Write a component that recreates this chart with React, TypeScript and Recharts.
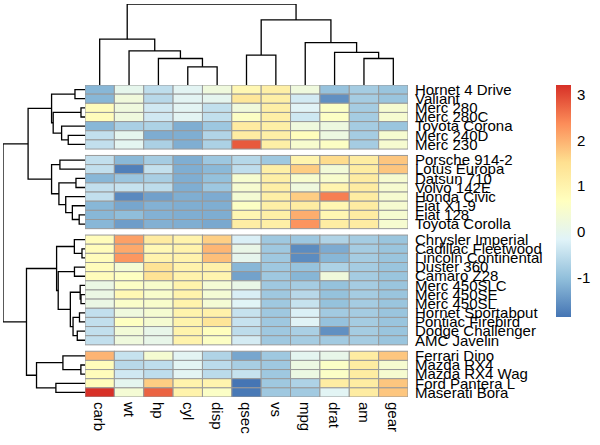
import React from 'react';
import { ScatterChart, Scatter, XAxis, YAxis, ReferenceArea } from 'recharts';

// columns in dendrogram order
const colNames = ['carb', 'wt', 'hp', 'cyl', 'disp', 'qsec', 'vs', 'mpg', 'drat', 'am', 'gear'];

// rows in dendrogram order, cut into 4 groups
const rowNames = [
  'Hornet 4 Drive', 'Valiant', 'Merc 280', 'Merc 280C', 'Toyota Corona', 'Merc 240D', 'Merc 230',
  'Porsche 914-2', 'Lotus Europa', 'Datsun 710', 'Volvo 142E', 'Honda Civic', 'Fiat X1-9', 'Fiat 128', 'Toyota Corolla',
  'Chrysler Imperial', 'Cadillac Fleetwood', 'Lincoln Continental', 'Duster 360', 'Camaro Z28', 'Merc 450SLC',
  'Merc 450SE', 'Merc 450SL', 'Hornet Sportabout', 'Pontiac Firebird', 'Dodge Challenger', 'AMC Javelin',
  'Ferrari Dino', 'Mazda RX4', 'Mazda RX4 Wag', 'Ford Pantera L', 'Maserati Bora',
];
const rowGroupSizes = [7, 8, 12, 5];

// scaled values, one row per car, columns as colNames
const values = [
  [-1.12, 0.00, -0.54, -0.10, 0.22, 0.89, 1.12, 0.22, -0.97, -0.81, -0.93],
  [-1.12, 0.25, -0.61, -0.10, -0.05, 1.33, 1.12, -0.33, -1.56, -0.81, -0.93],
  [0.74, 0.23, -0.35, -0.10, -0.51, 0.25, 1.12, -0.15, 0.60, -0.81, 0.42],
  [0.74, 0.23, -0.35, -0.10, -0.51, 0.59, 1.12, -0.38, 0.60, -0.81, 0.42],
  [-1.12, -0.77, -0.72, -1.22, -0.89, 1.21, 1.12, 0.23, 0.19, -0.81, -0.93],
  [-0.50, -0.03, -1.24, -1.22, -0.68, 1.20, 1.12, 0.72, 0.17, -0.81, 0.42],
  [-0.50, -0.07, -0.75, -1.22, -0.73, 2.83, 1.12, 0.45, 0.60, -0.81, 0.42],
  [-0.50, -1.10, -0.81, -1.22, -0.89, -0.64, -0.87, 0.98, 1.56, 1.19, 1.78],
  [-0.50, -1.74, -0.49, -1.22, -1.09, -0.53, 1.12, 1.71, 0.32, 1.19, 1.78],
  [-1.12, -0.92, -0.78, -1.22, -0.99, 0.43, 1.12, 0.45, 0.47, 1.19, 0.42],
  [-0.50, -0.45, -0.55, -1.22, -0.89, 0.42, 1.12, 0.22, 0.96, 1.19, 0.42],
  [-0.50, -1.64, -1.38, -1.22, -1.25, 0.38, 1.12, 1.71, 2.49, 1.19, 0.42],
  [-1.12, -1.31, -1.18, -1.22, -1.22, 0.59, 1.12, 1.20, 0.90, 1.19, 0.42],
  [-1.12, -1.04, -1.18, -1.22, -1.23, 0.91, 1.12, 2.04, 0.90, 1.19, 0.42],
  [-1.12, -1.41, -1.19, -1.22, -1.29, 1.15, 1.12, 2.29, 1.17, 1.19, 0.42],
  [0.74, 2.17, 1.21, 1.01, 1.69, -0.24, -0.87, -0.89, -0.69, -0.81, -0.93],
  [0.74, 2.08, 0.85, 1.01, 1.95, 0.07, -0.87, -1.61, -1.25, -0.81, -0.93],
  [0.74, 2.26, 1.00, 1.01, 1.85, -0.02, -0.87, -1.61, -1.12, -0.81, -0.93],
  [0.74, 0.36, 1.43, 1.01, 1.04, -1.12, -0.87, -0.96, -0.72, -0.81, -0.93],
  [0.74, 0.64, 1.43, 1.01, 0.96, -1.36, -0.87, -1.13, 0.25, -0.81, -0.93],
  [0.12, 0.58, 0.49, 1.01, 0.36, 0.08, -0.87, -0.81, -0.98, -0.81, -0.93],
  [0.12, 0.87, 0.49, 1.01, 0.36, -0.25, -0.87, -0.61, -0.98, -0.81, -0.93],
  [0.12, 0.52, 0.49, 1.01, 0.36, -0.14, -0.87, -0.46, -0.98, -0.81, -0.93],
  [-0.50, 0.23, 0.41, 1.01, 1.04, -0.46, -0.87, -0.23, -0.84, -0.81, -0.93],
  [-0.50, 0.64, 0.41, 1.01, 1.37, -0.45, -0.87, -0.15, -0.97, -0.81, -0.93],
  [-0.50, 0.31, 0.05, 1.01, 0.70, -0.55, -0.87, -0.76, -1.56, -0.81, -0.93],
  [-0.50, 0.22, 0.05, 1.01, 0.59, -0.31, -0.87, -0.81, -0.84, -0.81, -0.93],
  [1.97, -0.46, 0.41, -0.10, -0.69, -1.31, -0.87, -0.06, 0.04, 1.19, 1.78],
  [0.74, -0.61, -0.54, -0.10, -0.57, -0.78, -0.87, 0.15, 0.57, 1.19, 0.42],
  [0.74, -0.35, -0.54, -0.10, -0.57, -0.46, -0.87, 0.15, 0.57, 1.19, 0.42],
  [0.74, -0.05, 1.71, 1.01, 0.97, -1.87, -0.87, -0.71, 1.17, 1.19, 1.78],
  [3.21, 0.36, 2.75, 1.01, 0.57, -1.82, -0.87, -0.84, -0.11, 1.19, 1.78],
];

// hclust-style merges: [left, right, height]; numbers refer to earlier merges
type Merge = [string | number, string | number, number];

const colMerges: Merge[] = [
  ['cyl', 'disp', 2.4],
  ['hp', 0, 3.5],
  ['wt', 1, 4.5],
  ['carb', 2, 6.05],
  ['am', 'gear', 3.5],
  ['drat', 4, 4.3],
  ['mpg', 5, 5.6],
  ['qsec', 'vs', 3.95],
  [7, 6, 8.6],
  [3, 8, 10.7],
];

const rowMerges: Merge[] = [
  ['Merc 280', 'Merc 280C', 0.4],
  ['Hornet 4 Drive', 'Valiant', 1.0],
  ['Merc 240D', 'Merc 230', 1.67],
  ['Toyota Corona', 2, 2.33],
  [0, 3, 3.17],
  [1, 4, 3.33],
  ['Porsche 914-2', 'Lotus Europa', 2.5],
  ['Datsun 710', 'Volvo 142E', 0.9],
  ['Fiat 128', 'Toyota Corolla', 0.58],
  ['Fiat X1-9', 8, 1.26],
  ['Honda Civic', 9, 1.92],
  [7, 10, 2.6],
  [6, 11, 3.33],
  [5, 12, 5.67],
  ['Cadillac Fleetwood', 'Lincoln Continental', 0.3],
  ['Chrysler Imperial', 14, 1.06],
  ['Duster 360', 'Camaro Z28', 1.05],
  ['Merc 450SE', 'Merc 450SL', 0.4],
  ['Merc 450SLC', 17, 0.48],
  ['Hornet Sportabout', 'Pontiac Firebird', 0.55],
  ['Dodge Challenger', 'AMC Javelin', 0.77],
  [19, 20, 1.19],
  [18, 21, 1.46],
  [16, 22, 2.67],
  [15, 23, 2.83],
  ['Mazda RX4', 'Mazda RX4 Wag', 0.41],
  ['Ferrari Dino', 25, 2.2],
  ['Ford Pantera L', 'Maserati Bora', 2.9],
  [26, 27, 4.83],
  [24, 28, 5.83],
  [13, 29, 8.17],
];

const paletteStops = ['#4575B4', '#91BFDB', '#E0F3F8', '#FFFFBF', '#FEE090', '#FC8D59', '#D73027'];
const legendTicks = [-1, 0, 1, 2, 3];

// layout
const FONT = 'Liberation Sans, Arial, sans-serif';
const HM_LEFT = 85;
const HM_RIGHT = 408;
const HM_TOP = 85;
const HM_BOTTOM = 397;
const GAP = 0.7;

const groupOf: number[] = rowGroupSizes.flatMap((n, g) => Array(n).fill(g));
const rowPos = rowNames.map((_, i) => i + 0.5 + GAP * groupOf[i]);
const TOTAL = rowNames.length + GAP * (rowGroupSizes.length - 1);
const colTicks = colNames.map((_, j) => j + 0.5);

const CW = (HM_RIGHT - HM_LEFT) / colNames.length;
const CH = (HM_BOTTOM - HM_TOP) / TOTAL;

const allValues = values.flat();
const lo = Math.min(...allValues);
const hi = Math.max(...allValues);

const hexToRgb = (h: string) => [1, 3, 5].map((k) => parseInt(h.slice(k, k + 2), 16));

const heatColor = (v: number) => {
  const t = ((v - lo) / (hi - lo)) * (paletteStops.length - 1);
  const k = Math.max(0, Math.min(paletteStops.length - 2, Math.floor(t)));
  const f = t - k;
  const a = hexToRgb(paletteStops[k]);
  const b = hexToRgb(paletteStops[k + 1]);
  const c = a.map((x, i) => Math.round(x + (b[i] - x) * f));
  return `rgb(${c[0]},${c[1]},${c[2]})`;
};

const cells = values.flatMap((row, i) => row.map((v, j) => ({ x: colTicks[j], y: rowPos[i], v })));

// turn merges into U-shaped links: [{p, h}, ...]
const buildLinks = (merges: Merge[], leafPos: (name: string) => number) => {
  const pos: number[] = [];
  const hgt: number[] = [];
  return merges.map(([a, b, h], k) => {
    const pa = typeof a === 'number' ? pos[a] : leafPos(a);
    const pb = typeof b === 'number' ? pos[b] : leafPos(b);
    const ha = typeof a === 'number' ? hgt[a] : 0;
    const hb = typeof b === 'number' ? hgt[b] : 0;
    pos[k] = (pa + pb) / 2;
    hgt[k] = h;
    return [
      { p: pa, h: ha },
      { p: pa, h },
      { p: pb, h },
      { p: pb, h: hb },
    ];
  });
};

const colLinks = buildLinks(colMerges, (n) => colTicks[colNames.indexOf(n)]).map((l) =>
  l.map((pt) => ({ x: pt.p, y: pt.h }))
);
const rowLinks = buildLinks(rowMerges, (n) => rowPos[rowNames.indexOf(n)]).map((l) =>
  l.map((pt) => ({ x: pt.h, y: pt.p }))
);

const colTop = Math.max(...colMerges.map((m) => m[2]));
const rowTop = Math.max(...rowMerges.map((m) => m[2]));

const CellShape = (p: any) => (
  <rect
    x={p.cx - CW / 2}
    y={p.cy - CH / 2}
    width={CW}
    height={CH}
    fill={heatColor(p.payload.v)}
    stroke="#999999"
    strokeWidth={1}
  />
);

const NoShape = () => <g />;

const ColTick = (p: any) => {
  const j = colTicks.indexOf(p.payload.value);
  return (
    <text
      x={p.x}
      y={p.y}
      transform={`rotate(90 ${p.x} ${p.y})`}
      dy="0.35em"
      textAnchor="start"
      fontSize={15}
      fontFamily={FONT}
      fill="#000"
    >
      {colNames[j]}
    </text>
  );
};

const RowTick = (p: any) => {
  const i = rowPos.indexOf(p.payload.value);
  return (
    <text x={p.x} y={p.y} dy="0.35em" textAnchor="start" fontSize={15} fontFamily={FONT} fill="#000">
      {rowNames[i]}
    </text>
  );
};

const layer: React.CSSProperties = { position: 'absolute', left: 0, top: 0 };
const lineStyle = { stroke: '#000', strokeWidth: 1.3 };

const App = () => {
  return (
    <div style={{ position: 'absolute', left: 0, top: 0, width: 600, height: 445, background: '#fff' }}>
      {/* heatmap */}
      <div style={layer}>
        <ScatterChart width={600} height={445} margin={{ top: HM_TOP, left: HM_LEFT, right: 12, bottom: 3 }}>
          <XAxis
            type="number"
            dataKey="x"
            domain={[0, colNames.length]}
            ticks={colTicks}
            interval={0}
            axisLine={false}
            tickLine={false}
            tickSize={0}
            tickMargin={5}
            height={45}
            tick={<ColTick />}
            allowDataOverflow
          />
          <YAxis
            type="number"
            dataKey="y"
            domain={[0, TOTAL]}
            reversed
            orientation="right"
            ticks={rowPos}
            interval={0}
            axisLine={false}
            tickLine={false}
            tickSize={0}
            tickMargin={7}
            width={180}
            tick={<RowTick />}
            allowDataOverflow
          />
          <Scatter data={cells} shape={CellShape} isAnimationActive={false} />
        </ScatterChart>
      </div>

      {/* column dendrogram */}
      <div style={layer}>
        <ScatterChart width={600} height={90} margin={{ top: 4, left: HM_LEFT, right: 600 - HM_RIGHT, bottom: 5 }}>
          <XAxis type="number" dataKey="x" domain={[0, colNames.length]} hide allowDataOverflow />
          <YAxis type="number" dataKey="y" domain={[0, colTop]} hide allowDataOverflow />
          {colLinks.map((l, k) => (
            <Scatter key={k} data={l} line={lineStyle} shape={NoShape} isAnimationActive={false} />
          ))}
        </ScatterChart>
      </div>

      {/* row dendrogram */}
      <div style={layer}>
        <ScatterChart width={600} height={445} margin={{ top: HM_TOP, left: 3, right: 600 - HM_LEFT, bottom: 445 - HM_BOTTOM }}>
          <XAxis type="number" dataKey="x" domain={[0, rowTop]} reversed hide allowDataOverflow />
          <YAxis type="number" dataKey="y" domain={[0, TOTAL]} reversed hide allowDataOverflow />
          {rowLinks.map((l, k) => (
            <Scatter key={k} data={l} line={lineStyle} shape={NoShape} isAnimationActive={false} />
          ))}
        </ScatterChart>
      </div>

      {/* colour legend */}
      <div style={layer}>
        <ScatterChart width={600} height={445} margin={{ top: 85, left: 556, right: 0, bottom: 128 }}>
          <defs>
            <linearGradient id="heatGrad" x1="0" y1="1" x2="0" y2="0">
              {paletteStops.map((c, k) => (
                <stop key={k} offset={k / (paletteStops.length - 1)} stopColor={c} />
              ))}
            </linearGradient>
          </defs>
          <XAxis type="number" dataKey="x" domain={[0, 1]} hide allowDataOverflow />
          <YAxis
            type="number"
            dataKey="y"
            domain={[lo, hi]}
            ticks={legendTicks}
            orientation="right"
            width={29}
            axisLine={false}
            tickLine={false}
            tickSize={0}
            tickMargin={6}
            tick={{ fontSize: 15, fill: '#000', fontFamily: FONT }}
            allowDataOverflow
          />
          <ReferenceArea x1={0} x2={1} y1={lo} y2={hi} fill="url(#heatGrad)" fillOpacity={1} stroke="none" />
          <Scatter data={[{ x: 0.5, y: 0 }]} shape={NoShape} isAnimationActive={false} />
        </ScatterChart>
      </div>
    </div>
  );
};

export default App;
